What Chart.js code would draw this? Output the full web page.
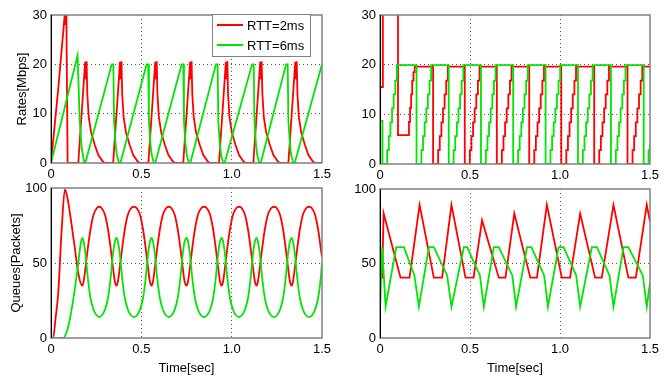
<!DOCTYPE html>
<html>
<head>
<meta charset="utf-8">
<script src="https://cdn.jsdelivr.net/npm/chart.js@4.4.1/dist/chart.umd.min.js"></script>
<style>
  html, body { margin: 0; padding: 0; background: #fff; }
  #wrap { position: relative; width: 664px; height: 379px; overflow: hidden; }
  canvas { position: absolute; }
</style>
</head>
<body>
<div id="wrap">
  <canvas id="rateL" width="340" height="190" style="left:0;top:0"></canvas>
  <canvas id="rateR" width="332" height="190" style="left:332px;top:0"></canvas>
  <canvas id="queueL" width="340" height="204" style="left:0;top:175px"></canvas>
  <canvas id="queueR" width="332" height="204" style="left:332px;top:175px"></canvas>
</div>
<script>
// series labels
const seriesNames = ['RTT=2ms', 'RTT=6ms'];
const xTicks = [0, 0.5, 1, 1.5];

// --- top left: rates [Mbps] ---
const rateRedLT = [0, 0.04, 0.077, 0.081, 0.085, 0.092,
  0.151, 0.189, 0.193, 0.197, 0.201, 0.209, 0.222, 0.242, 0.262, 0.287, 0.297,
  0.344, 0.382, 0.386, 0.390, 0.394, 0.402, 0.415, 0.435, 0.455, 0.480, 0.490,
  0.539, 0.577, 0.581, 0.585, 0.589, 0.597, 0.610, 0.630, 0.650, 0.675, 0.685,
  0.732, 0.770, 0.774, 0.778, 0.782, 0.790, 0.803, 0.823, 0.843, 0.868, 0.878,
  0.930, 0.968, 0.972, 0.976, 0.980, 0.988, 1.001, 1.021, 1.041, 1.066, 1.076,
  1.120, 1.158, 1.162, 1.166, 1.170, 1.178, 1.191, 1.211, 1.231, 1.256, 1.266,
  1.314, 1.352, 1.356, 1.360, 1.364, 1.372, 1.385, 1.405, 1.425, 1.450, 1.460, 1.5];
const rateRedLV = [0, 15, 30.5, 28, 30.5, 0,
  0, 20.5, 17, 20.6, 14, 9.3, 6.2, 3.7, 1.6, 0.3, 0,
  0, 20.5, 17, 20.6, 14, 9.3, 6.2, 3.7, 1.6, 0.3, 0,
  0, 20.5, 17, 20.6, 14, 9.3, 6.2, 3.7, 1.6, 0.3, 0,
  0, 20.5, 17, 20.6, 14, 9.3, 6.2, 3.7, 1.6, 0.3, 0,
  0, 20.5, 17, 20.6, 14, 9.3, 6.2, 3.7, 1.6, 0.3, 0,
  0, 20.5, 17, 20.6, 14, 9.3, 6.2, 3.7, 1.6, 0.3, 0,
  0, 20.5, 17, 20.6, 14, 9.3, 6.2, 3.7, 1.6, 0.3, 0, 0];

const rateGreenLT = [0, 0.147, 0.159, 0.170, 0.184, 0.190,
  0.336, 0.345, 0.349, 0.357, 0.365, 0.376, 0.384,
  0.529, 0.538, 0.542, 0.550, 0.558, 0.569, 0.577,
  0.723, 0.732, 0.736, 0.744, 0.752, 0.763, 0.771,
  0.913, 0.922, 0.926, 0.934, 0.942, 0.953, 0.961,
  1.113, 1.122, 1.126, 1.134, 1.142, 1.153, 1.161,
  1.301, 1.310, 1.314, 1.322, 1.330, 1.341, 1.349, 1.5];
const rateGreenLV = [0, 21.8, 8.7, 3, 0, 0,
  20, 20, 8.5, 4, 1.5, 0, 0,
  20, 20, 8.5, 4, 1.5, 0, 0,
  20, 20, 8.5, 4, 1.5, 0, 0,
  20, 20, 8.5, 4, 1.5, 0, 0,
  20, 20, 8.5, 4, 1.5, 0, 0,
  20, 20, 8.5, 4, 1.5, 0, 0, 20];

// --- top right: rates [Mbps], value jumps to v at time t ---
const rateRedRT = [0, 0.001, 0.016, 0.100, 0.161, 0.167, 0.173, 0.179, 0.186, 0.193,
  0.295, 0.323, 0.332, 0.341, 0.350, 0.359, 0.368, 0.377,
  0.471, 0.499, 0.508, 0.517, 0.526, 0.535, 0.544, 0.553,
  0.649, 0.677, 0.686, 0.695, 0.704, 0.713, 0.722, 0.731,
  0.829, 0.857, 0.866, 0.875, 0.884, 0.893, 0.902, 0.911,
  1.007, 1.035, 1.044, 1.053, 1.062, 1.071, 1.080, 1.089,
  1.190, 1.218, 1.227, 1.236, 1.245, 1.254, 1.263, 1.272,
  1.375, 1.403, 1.412, 1.421, 1.430, 1.439, 1.448, 1.457, 1.5];
const rateRedRV = [0, 15.5, 40, 5.8, 8.5, 11.3, 14, 16.8, 18.5, 19.6,
  0, 2.8, 5.6, 8.4, 11.2, 14, 16.8, 19.6,
  0, 2.8, 5.6, 8.4, 11.2, 14, 16.8, 19.6,
  0, 2.8, 5.6, 8.4, 11.2, 14, 16.8, 19.6,
  0, 2.8, 5.6, 8.4, 11.2, 14, 16.8, 19.6,
  0, 2.8, 5.6, 8.4, 11.2, 14, 16.8, 19.6,
  0, 2.8, 5.6, 8.4, 11.2, 14, 16.8, 19.6,
  0, 2.8, 5.6, 8.4, 11.2, 14, 16.8, 19.6, 19.6];

const rateGreenRT = [0, 0.001, 0.014, 0.040, 0.049, 0.058, 0.067, 0.076, 0.085, 0.094,
  0.203, 0.230, 0.239, 0.248, 0.257, 0.266, 0.275, 0.284,
  0.382, 0.409, 0.418, 0.427, 0.436, 0.445, 0.454, 0.463,
  0.561, 0.588, 0.597, 0.606, 0.615, 0.624, 0.633, 0.642,
  0.740, 0.767, 0.776, 0.785, 0.794, 0.803, 0.812, 0.821,
  0.920, 0.947, 0.956, 0.965, 0.974, 0.983, 0.992, 1.001,
  1.100, 1.127, 1.136, 1.145, 1.154, 1.163, 1.172, 1.181,
  1.283, 1.310, 1.319, 1.328, 1.337, 1.346, 1.355, 1.364,
  1.465, 1.492, 1.5];
const rateGreenRV = [0, 8.7, 0, 2.8, 5.6, 8.4, 11.2, 14, 16.8, 19.9,
  0, 2.8, 5.6, 8.4, 11.2, 14, 16.8, 19.9,
  0, 2.8, 5.6, 8.4, 11.2, 14, 16.8, 19.9,
  0, 2.8, 5.6, 8.4, 11.2, 14, 16.8, 19.9,
  0, 2.8, 5.6, 8.4, 11.2, 14, 16.8, 19.9,
  0, 2.8, 5.6, 8.4, 11.2, 14, 16.8, 19.9,
  0, 2.8, 5.6, 8.4, 11.2, 14, 16.8, 19.9,
  0, 2.8, 5.6, 8.4, 11.2, 14, 16.8, 19.9,
  0, 2.8, 4.2];

// --- bottom left: queues [packets] ---
const queueRedLT = [0, 0.012, 0.025, 0.040, 0.059, 0.077, 0.090, 0.105, 0.133, 0.151,
  0.173, 0.181, 0.191, 0.203, 0.218, 0.235, 0.253, 0.267, 0.281, 0.299, 0.316, 0.331, 0.343, 0.353,
  0.363, 0.371, 0.381, 0.393, 0.408, 0.425, 0.443, 0.461, 0.475, 0.493, 0.510, 0.525, 0.537, 0.547,
  0.557, 0.565, 0.575, 0.587, 0.602, 0.619, 0.637, 0.653, 0.667, 0.685, 0.702, 0.717, 0.729, 0.739,
  0.751, 0.759, 0.769, 0.781, 0.796, 0.813, 0.831, 0.849, 0.863, 0.881, 0.898, 0.913, 0.925, 0.935,
  0.945, 0.953, 0.963, 0.975, 0.990, 1.007, 1.025, 1.042, 1.056, 1.074, 1.091, 1.106, 1.118, 1.128,
  1.138, 1.146, 1.156, 1.168, 1.183, 1.200, 1.218, 1.236, 1.250, 1.268, 1.285, 1.300, 1.312, 1.322,
  1.332, 1.340, 1.350, 1.362, 1.377, 1.394, 1.412, 1.430, 1.444, 1.462, 1.479, 1.494, 1.5];
const queueRedLV = [0, 0, 13, 30, 72, 99, 94, 83, 59, 43,
  35, 38, 47, 59, 72, 82, 86.5, 87.5, 86.5, 82, 72, 59, 47, 38,
  35, 38, 47, 59, 72, 82, 86.5, 87.5, 86.5, 82, 72, 59, 47, 38,
  35, 38, 47, 59, 72, 82, 86.5, 87.5, 86.5, 82, 72, 59, 47, 38,
  35, 38, 47, 59, 72, 82, 86.5, 87.5, 86.5, 82, 72, 59, 47, 38,
  35, 38, 47, 59, 72, 82, 86.5, 87.5, 86.5, 82, 72, 59, 47, 38,
  35, 38, 47, 59, 72, 82, 86.5, 87.5, 86.5, 82, 72, 59, 47, 38,
  35, 38, 47, 59, 72, 82, 86.5, 87.5, 86.5, 82, 72, 59, 54];

const queueGreenLT = [0, 0.068, 0.080, 0.096, 0.123, 0.151, 0.163,
  0.173, 0.181, 0.191, 0.203, 0.218, 0.235, 0.253, 0.267, 0.281, 0.299, 0.316, 0.331, 0.343, 0.353,
  0.363, 0.371, 0.381, 0.393, 0.408, 0.425, 0.443, 0.461, 0.475, 0.493, 0.510, 0.525, 0.537, 0.547,
  0.557, 0.565, 0.575, 0.587, 0.602, 0.619, 0.637, 0.653, 0.667, 0.685, 0.702, 0.717, 0.729, 0.739,
  0.751, 0.759, 0.769, 0.781, 0.796, 0.813, 0.831, 0.849, 0.863, 0.881, 0.898, 0.913, 0.925, 0.935,
  0.945, 0.953, 0.963, 0.975, 0.990, 1.007, 1.025, 1.042, 1.056, 1.074, 1.091, 1.106, 1.118, 1.128,
  1.138, 1.146, 1.156, 1.168, 1.183, 1.200, 1.218, 1.236, 1.250, 1.268, 1.285, 1.300, 1.312, 1.322,
  1.332, 1.340, 1.350, 1.362, 1.377, 1.394, 1.412, 1.430, 1.444, 1.462, 1.479, 1.494, 1.5];
const queueGreenLV = [0, 0, 2, 7.8, 25.6, 50, 62,
  66.7, 64, 56, 41, 27, 19, 15, 14, 15, 19, 27, 41, 56, 64,
  66.7, 64, 56, 41, 27, 19, 15, 14, 15, 19, 27, 41, 56, 64,
  66.7, 64, 56, 41, 27, 19, 15, 14, 15, 19, 27, 41, 56, 64,
  66.7, 64, 56, 41, 27, 19, 15, 14, 15, 19, 27, 41, 56, 64,
  66.7, 64, 56, 41, 27, 19, 15, 14, 15, 19, 27, 41, 56, 64,
  66.7, 64, 56, 41, 27, 19, 15, 14, 15, 19, 27, 41, 56, 64,
  66.7, 64, 56, 41, 27, 19, 15, 14, 15, 19, 27, 41, 50];

// --- bottom right: queues [packets] ---
const queueRedRT = [0, 0.012, 0.020, 0.114, 0.164, 0.220, 0.299, 0.345, 0.397, 0.475, 0.520,
  0.567, 0.660, 0.697, 0.746, 0.835, 0.872, 0.927, 1.010, 1.056, 1.112, 1.195, 1.232,
  1.297, 1.380, 1.421, 1.482, 1.5];
const queueRedRV = [40.5, 40.5, 83.7, 40.5, 40.5, 89.3, 40.5, 40.5, 89.3, 40.5, 40.5,
  79, 40.5, 40.5, 83.5, 40.5, 40.5, 89.3, 40.5, 40.5, 83.5, 40.5, 40.5,
  89.3, 40.5, 40.5, 89.3, 78];

const queueGreenRT = [0, 0.012, 0.031, 0.090, 0.133, 0.191, 0.216, 0.272, 0.299, 0.373, 0.397,
  0.466, 0.484, 0.555, 0.577, 0.632, 0.660, 0.735, 0.756, 0.817, 0.841, 0.912, 0.933,
  0.992, 1.020, 1.090, 1.112, 1.177, 1.205, 1.275, 1.297, 1.353, 1.380, 1.460, 1.482, 1.5];
const queueGreenRV = [18, 61, 21, 61, 61, 42, 21, 61, 61, 42, 21,
  61, 61, 42, 21, 61, 61, 42, 21, 61, 61, 42, 21,
  61, 61, 42, 21, 61, 61, 42, 21, 61, 61, 42, 21, 37];

const RED = '#ff0000';
const GREEN = '#00e600';
const FONT = {family: '"Liberation Sans", Arial, sans-serif', size: 13};

function points(ts, vs) {
  return ts.map((t, i) => ({x: t, y: vs[i]}));
}

const frame = {
  id: 'frame',
  afterDatasetsDraw(chart) {
    const {ctx, chartArea: a} = chart;
    ctx.save();
    ctx.lineWidth = 1.5;
    ctx.strokeStyle = '#808080';
    ctx.strokeRect(a.left, a.top, a.right - a.left, a.bottom - a.top);
    ctx.strokeStyle = '#000';
    ctx.lineWidth = 1;
    ctx.beginPath();
    ctx.moveTo(a.left + 0.5, a.top);
    ctx.lineTo(a.left + 0.5, a.bottom);
    ctx.stroke();
    ctx.restore();
  }
};

// legend box drawn inside the top-left axes
const boxLegend = {
  id: 'boxLegend',
  afterDraw(chart) {
    const ctx = chart.ctx;
    ctx.save();
    ctx.fillStyle = '#fff';
    ctx.fillRect(212, 14, 99, 43);
    ctx.strokeStyle = '#808080';
    ctx.lineWidth = 1;
    ctx.strokeRect(212.5, 14.5, 98, 42);
    const rows = [[RED, 25], [GREEN, 45]];
    ctx.font = '13px "Liberation Sans", Arial, sans-serif';
    ctx.textBaseline = 'middle';
    ctx.fillStyle = '#000';
    rows.forEach(([c, y], i) => {
      ctx.strokeStyle = c;
      ctx.lineWidth = 2;
      ctx.beginPath();
      ctx.moveTo(217, y);
      ctx.lineTo(243, y);
      ctx.stroke();
      ctx.fillText(seriesNames[i], 247, y + 1);
    });
    ctx.restore();
  }
};

function makeChart(id, sets, cfg) {
  const edge = v => v === 0 || v === cfg.yMax;
  return new Chart(document.getElementById(id), {
    type: 'line',
    data: {
      datasets: sets.map((s, i) => ({
        label: seriesNames[i],
        data: points(s[0], s[1]),
        borderColor: i === 0 ? RED : GREEN,
        borderWidth: 1.8,
        pointRadius: 0,
        fill: false,
        stepped: cfg.stepped || false,
        tension: 0,
        cubicInterpolationMode: cfg.smooth ? 'monotone' : 'default'
      })).reverse()
    },
    options: {
      responsive: false,
      animation: false,
      events: [],
      layout: {padding: {left: 0, top: cfg.top, right: cfg.right, bottom: 0}},
      plugins: {legend: {display: false}, tooltip: {enabled: false}},
      scales: {
        x: {
          type: 'linear', min: 0, max: 1.5,
          afterBuildTicks: s => { s.ticks = xTicks.map(v => ({value: v})); },
          afterFit: s => { s.height = cfg.xh; },
          ticks: {color: '#000', font: FONT, padding: 4, maxRotation: 0},
          grid: {drawTicks: false, color: c => (c.tick && (c.tick.value === 0 || c.tick.value === 1.5)) ? 'rgba(0,0,0,0)' : '#555', lineWidth: 1},
          border: {display: false, dash: [1, 3]},
          title: {display: !!cfg.xTitle, text: cfg.xTitle, color: '#000', font: FONT, padding: {top: 0, bottom: 3}}
        },
        y: {
          min: 0, max: cfg.yMax,
          ticks: {stepSize: cfg.yStep, color: '#000', font: FONT, padding: 4},
          afterFit: s => { s.width = cfg.yw; },
          grid: {drawTicks: false, color: c => (c.tick && edge(c.tick.value)) ? 'rgba(0,0,0,0)' : '#555', lineWidth: 1},
          border: {display: false, dash: [1, 3]},
          title: {display: !!cfg.yTitle, text: cfg.yTitle, color: '#000', font: FONT, padding: {top: cfg.yTitlePad || 0, bottom: 0}}
        }
      }
    },
    plugins: cfg.legend ? [frame, boxLegend] : [frame]
  });
}

makeChart('rateL', [[rateRedLT, rateRedLV], [rateGreenLT, rateGreenLV]],
  {yMax: 30, yStep: 10, top: 15, right: 18, xh: 27, yw: 51, yTitle: 'Rates[Mbps]', yTitlePad: 15, legend: true});
makeChart('rateR', [[rateRedRT, rateRedRV], [rateGreenRT, rateGreenRV]],
  {yMax: 30, yStep: 10, top: 15, right: 14, xh: 26, yw: 48, stepped: 'before'});
makeChart('queueL', [[queueRedLT, queueRedLV], [queueGreenLT, queueGreenLV]],
  {yMax: 100, yStep: 50, top: 13, right: 18, xh: 41, yw: 51, yTitle: 'Queues[Packets]', yTitlePad: 9, xTitle: 'Time[sec]', smooth: true});
makeChart('queueR', [[queueRedRT, queueRedRV], [queueGreenRT, queueGreenRV]],
  {yMax: 100, yStep: 50, top: 14, right: 14, xh: 41, yw: 48, xTitle: 'Time[sec]'});
</script>
</body>
</html>
